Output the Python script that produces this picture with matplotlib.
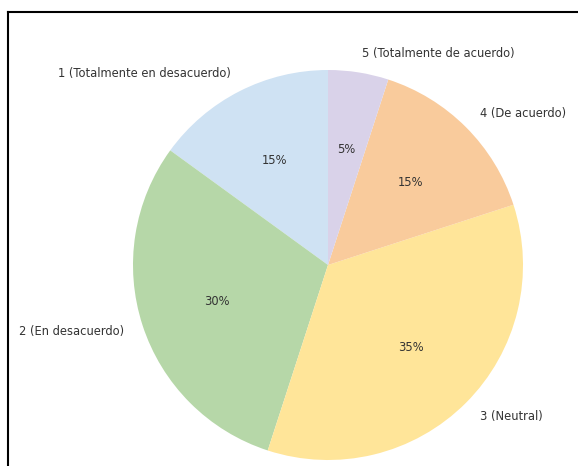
import matplotlib
matplotlib.use("Agg")
import matplotlib.pyplot as plt
from matplotlib.lines import Line2D

labels = ["1 (Totalmente en desacuerdo)", "2 (En desacuerdo)", "3 (Neutral)",
          "4 (De acuerdo)", "5 (Totalmente de acuerdo)"]
values = [15, 30, 35, 15, 5]
colors = ["#cfe2f3", "#b6d7a8", "#ffe599", "#f9cb9c", "#d9d2e9"]

W, H = 578, 466
cx, cy, r = 328, 265, 195

fig = plt.figure(figsize=(W / 100, H / 100), dpi=100)
ax = fig.add_axes([0, 0, 1, 1])

wedges, texts, autotexts = ax.pie(values, labels=labels, colors=colors,
                                  autopct="%1.0f%%", startangle=90,
                                  counterclock=True, pctdistance=0.6,
                                  labeldistance=1.1,
                                  textprops={"fontsize": 8.3, "color": "#333333"})

ax.set_xlim(-cx / r, (W - cx) / r)
ax.set_ylim(-(H - cy) / r, cy / r)
ax.set_aspect("auto")
ax.axis("off")

# screenshot frame (top and left edges)
fig.add_artist(Line2D([8 / W, 1], [1 - 12 / H, 1 - 12 / H], color="black", lw=1.5))
fig.add_artist(Line2D([8 / W, 8 / W], [0, 1 - 12 / H], color="black", lw=1.5))

fig.savefig("out.png", dpi=100)
